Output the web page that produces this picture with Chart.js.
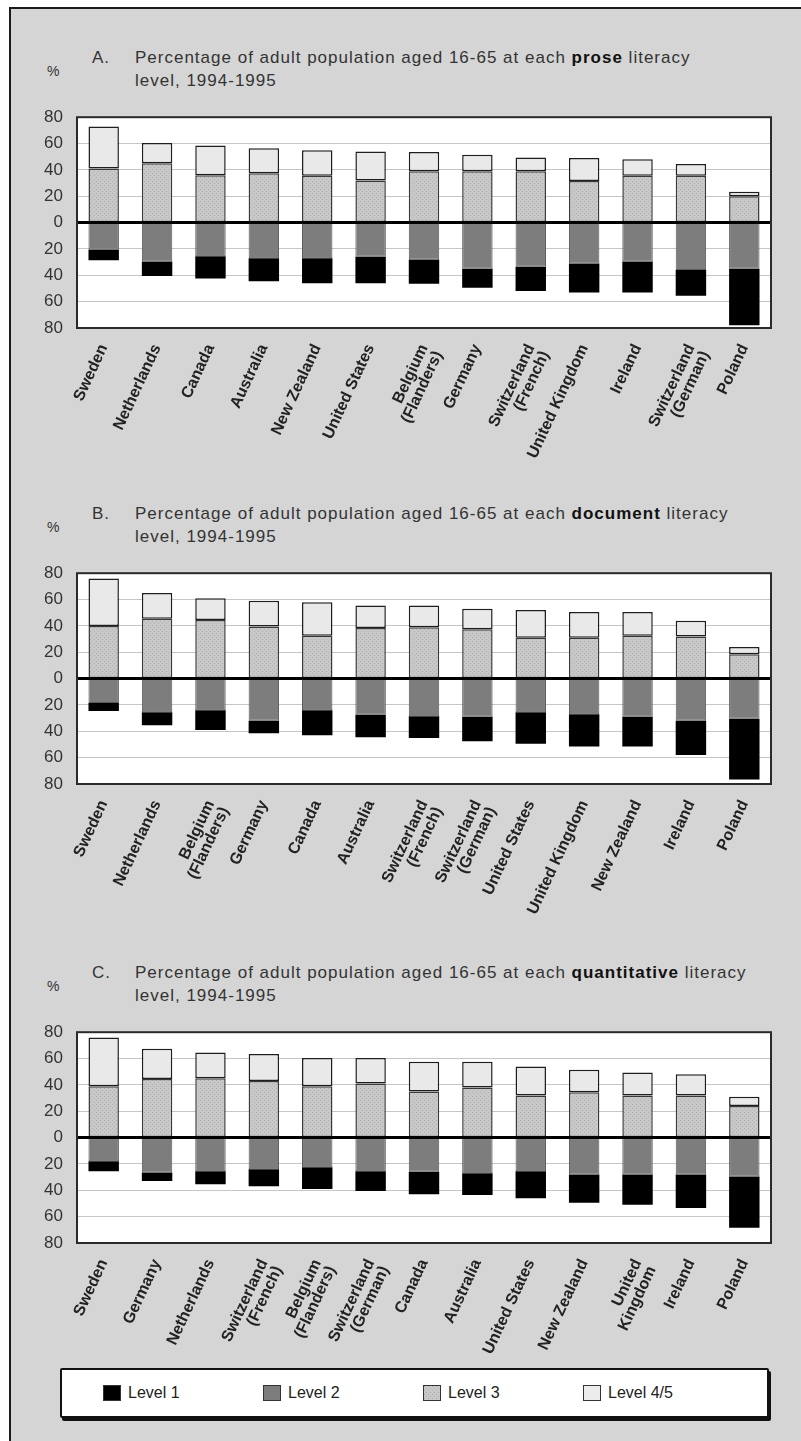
<!DOCTYPE html>
<html>
<head>
<meta charset="utf-8">
<script src="https://cdn.jsdelivr.net/npm/chart.js@4.4.1/dist/chart.umd.min.js"></script>
<style>
  html, body { margin: 0; padding: 0; background: #fff; }
  body { width: 801px; height: 1441px; position: relative; overflow: hidden;
         font-family: 'Liberation Sans', Arial, sans-serif; }
  #frame { position: absolute; left: 9px; top: 7px; width: 800px; height: 1440px;
           background: #d5d5d5; border-left: 2px solid #1a1a1a; border-top: 2px solid #1a1a1a; }
  .title { position: absolute; left: 0; font-size: 17px; line-height: 23px; color: #333; white-space: nowrap;
           letter-spacing: 1px; }
  .title .letter { position: absolute; left: 92px; top: 0; }
  .title .text { position: absolute; left: 135px; top: 0; }
  .title b { color: #111; }
  .pct { position: absolute; left: 47px; font-size: 14px; color: #333; }
  canvas.panel { position: absolute; left: 20px; }
  #legend { position: absolute; left: 60px; top: 1368px; width: 705px; height: 46px; background: #fff;
            border: 2px solid #111; box-shadow: 2px 3px 0 #111; border-radius: 2px; }
  #legend .item { position: absolute; top: 14px; font-size: 16px; color: #222; line-height: 18px; }
  #legend .sw { display: inline-block; width: 18px; height: 16px; vertical-align: -3px; margin-right: 7px;
                box-sizing: border-box; border: 1px solid #333; }
</style>
</head>
<body>
<div id="frame"></div>
<div id="legend"></div>
<script>
// level names, bottom to top
const levelNames = ['Level 1', 'Level 2', 'Level 3', 'Level 4/5'];
const yTicks = [-80, -60, -40, -20, 0, 20, 40, 60, 80];

// A. prose literacy
const proseCountries = ['Sweden', 'Netherlands', 'Canada', 'Australia', 'New Zealand', 'United States',
  ['Belgium', '(Flanders)'], 'Germany', ['Switzerland', '(French)'], 'United Kingdom', 'Ireland',
  ['Switzerland', '(German)'], 'Poland'];
const proseL1 = [8, 11, 17, 17.5, 19, 20, 18.5, 14.5, 18.5, 22, 23.5, 19.5, 43];
const proseL2 = [20.5, 29.5, 25.5, 27, 27, 26, 28, 35, 33.5, 31, 29.5, 36, 35];
const proseL3 = [41, 45, 36, 37.5, 35.5, 32, 39, 39, 39, 31.5, 35.5, 35.5, 20];
const proseL45 = [32, 15.5, 22.5, 19, 19.5, 22, 14.5, 12.5, 10.5, 17.5, 12.5, 9, 3.5];

// B. document literacy
const docCountries = ['Sweden', 'Netherlands', ['Belgium', '(Flanders)'], 'Germany', 'Canada', 'Australia',
  ['Switzerland', '(French)'], ['Switzerland', '(German)'], 'United States', 'United Kingdom',
  'New Zealand', 'Ireland', 'Poland'];
const docL1 = [6, 10, 15, 9.5, 19, 17, 16.5, 18.5, 24, 24.5, 22.5, 26, 46];
const docL2 = [18.5, 25.5, 24, 32, 24, 27.5, 28.5, 29, 25.5, 27, 29, 32, 30.5];
const docL3 = [40, 45.5, 44.5, 39.5, 32.5, 38.5, 39, 37.5, 31, 31, 32.5, 32, 18.5];
const docL45 = [36, 19.5, 16.5, 19.5, 25.5, 17, 16.5, 15.5, 21, 19.5, 18, 12, 5.5];

// C. quantitative literacy
const quantCountries = ['Sweden', 'Germany', 'Netherlands', ['Switzerland', '(French)'],
  ['Belgium', '(Flanders)'], ['Switzerland', '(German)'], 'Canada', 'Australia', 'United States',
  'New Zealand', ['United', 'Kingdom'], 'Ireland', 'Poland'];
const quantL1 = [7.5, 6.5, 10, 13, 16.5, 15, 17, 16.5, 20.5, 21.5, 23, 25.5, 39];
const quantL2 = [18, 26.5, 25.5, 24, 22.5, 25.5, 26, 27, 25.5, 28, 28, 28, 29.5];
const quantL3 = [39, 44.5, 45, 43, 39, 41, 35, 38, 32, 34.5, 32, 32, 24];
const quantL45 = [37, 23, 19.5, 20.5, 21.5, 19.5, 22.5, 19.5, 22, 17, 17.5, 16, 7];

const panels = [
  { letter: 'A.', word: 'prose', plotTop: 103, countries: proseCountries, l1: proseL1, l2: proseL2, l3: proseL3, l45: proseL45 },
  { letter: 'B.', word: 'document', plotTop: 559, countries: docCountries, l1: docL1, l2: docL2, l3: docL3, l45: docL45 },
  { letter: 'C.', word: 'quantitative', plotTop: 1018, countries: quantCountries, l1: quantL1, l2: quantL2, l3: quantL3, l45: quantL45 }
];

function makePatternCanvas(base, dot) {
  const c = document.createElement('canvas');
  c.width = 4; c.height = 4;
  const x = c.getContext('2d');
  x.fillStyle = base; x.fillRect(0, 0, 4, 4);
  x.fillStyle = dot; x.fillRect(0, 0, 1, 1); x.fillRect(2, 2, 1, 1);
  return c;
}
const l3Canvas = makePatternCanvas('#c8c8c8', '#b0b0b0');
const l3Pattern = l3Canvas.getContext('2d').createPattern(l3Canvas, 'repeat');
const levelColors = ['#000000', '#7d7d7d', l3Pattern, '#e9e9e9'];
const legendCss = ['#000', '#7d7d7d', `url(${l3Canvas.toDataURL()})`, '#ececec'];

const framePlugin = {
  id: 'frame',
  beforeDraw(chart) {
    const a = chart.chartArea, ctx = chart.ctx;
    ctx.save();
    ctx.fillStyle = '#fff';
    ctx.fillRect(a.left, a.top, a.right - a.left, a.bottom - a.top);
    ctx.restore();
  },
  afterDatasetsDraw(chart) {
    const a = chart.chartArea, ctx = chart.ctx;
    const y0 = chart.scales.y.getPixelForValue(0);
    ctx.save();
    ctx.strokeStyle = '#000';
    ctx.lineWidth = 3;
    ctx.beginPath(); ctx.moveTo(a.left, y0); ctx.lineTo(a.right, y0); ctx.stroke();
    ctx.strokeStyle = '#2a2a2a';
    ctx.lineWidth = 2;
    ctx.strokeRect(a.left, a.top, a.right - a.left, a.bottom - a.top);
    ctx.restore();
  }
};

const narrow = "'Liberation Sans Narrow', 'Liberation Sans', Arial, sans-serif";

panels.forEach(p => {
  const t = document.createElement('div');
  t.className = 'title';
  t.style.top = (p.plotTop - 57) + 'px';
  t.innerHTML = `<span class="letter">${p.letter}</span><span class="text">Percentage of adult population aged 16-65 at each <b>${p.word}</b> literacy<br>level, 1994-1995</span>`;
  document.body.appendChild(t);

  const pc = document.createElement('div');
  pc.className = 'pct';
  pc.style.top = (p.plotTop - 40) + 'px';
  pc.textContent = '%';
  document.body.appendChild(pc);

  const cv = document.createElement('canvas');
  cv.className = 'panel';
  cv.width = 761; cv.height = 395;
  cv.style.top = (p.plotTop - 10) + 'px';
  document.body.appendChild(cv);

  new Chart(cv, {
    type: 'bar',
    data: {
      labels: p.countries,
      datasets: [
        { label: levelNames[1], data: p.l2.map(v => -v), backgroundColor: levelColors[1], borderColor: '#5a5a5a', borderWidth: 1 },
        { label: levelNames[0], data: p.l1.map(v => -v), backgroundColor: levelColors[0], borderWidth: 0 },
        { label: levelNames[2], data: p.l3, backgroundColor: levelColors[2], borderColor: '#3a3a3a', borderWidth: 1.5 },
        { label: levelNames[3], data: p.l45, backgroundColor: levelColors[3], borderColor: '#1e1e1e', borderWidth: 1.5 }
      ]
    },
    options: {
      responsive: false,
      animation: false,
      devicePixelRatio: 1,
      layout: { padding: { top: 10, right: 10, left: 0, bottom: 0 } },
      datasets: { bar: { barPercentage: 0.57, categoryPercentage: 1, borderSkipped: false } },
      plugins: { legend: { display: false }, tooltip: { enabled: false } },
      scales: {
        x: {
          stacked: true,
          grid: { display: false },
          border: { display: false },
          ticks: { autoSkip: false, minRotation: 65, maxRotation: 65, padding: 6, color: '#222',
                   font: { family: narrow, size: 16, weight: 'bold', lineHeight: 1.0 } },
          afterFit: s => { s.height = 160; }
        },
        y: {
          stacked: true,
          min: -80, max: 80,
          afterBuildTicks: s => { s.ticks = yTicks.map(v => ({ value: v })); },
          ticks: { padding: 14, color: '#333', callback: v => Math.abs(v),
                   font: { family: narrow, size: 17 } },
          grid: { drawTicks: false,
                  color: c => (c.tick && Math.abs(c.tick.value) % 80 !== 0) ? '#c6c6c6' : 'rgba(0,0,0,0)',
                  lineWidth: 1 },
          border: { display: false },
          afterFit: s => { s.width = 57; }
        }
      }
    },
    plugins: [framePlugin]
  });
});

const legend = document.getElementById('legend');
levelNames.forEach((name, i) => {
  const it = document.createElement('div');
  it.className = 'item';
  it.style.left = (41 + i * 160) + 'px';
  it.innerHTML = `<span class="sw" style="background:${legendCss[i]}"></span>${name}`;
  legend.appendChild(it);
});
</script>
</body>
</html>
